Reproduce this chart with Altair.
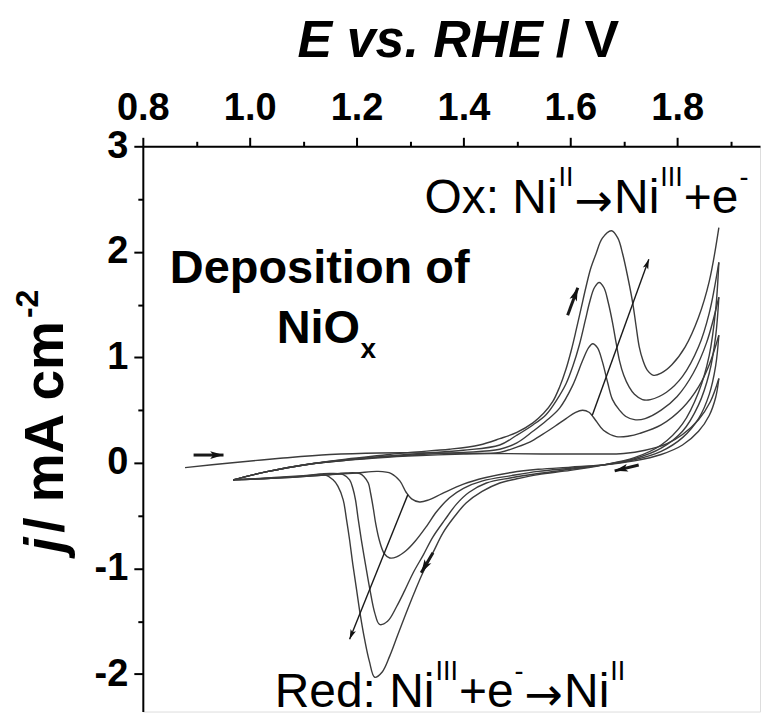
import math
import altair as alt
import pandas as pd

# ---------------- axes ----------------
X_MIN, X_MAX = 0.8, 1.955
Y_MIN, Y_MAX = -2.355, 3.0
PLOT_W, PLOT_H = 618, 566
x_tick_values = [0.8, 0.9, 1.0, 1.1, 1.2, 1.3, 1.4, 1.5, 1.6, 1.7, 1.8, 1.9]
y_tick_values = [-2, -1.5, -1, -0.5, 0, 0.5, 1, 1.5, 2, 2.5, 3]

# ---------------- CV scans (E in V vs RHE, j in mA cm-2) ----------------
fwd1_E = [0.879, 0.963, 1.057, 1.15, 1.243, 1.35, 1.45, 1.55, 1.65, 1.70, 1.74, 1.78, 1.81, 1.84, 1.862, 1.878]
fwd1_j = [-0.044, 0.0, 0.044, 0.08, 0.095, 0.095, 0.09, 0.085, 0.085, 0.09, 0.12, 0.18, 0.27, 0.41, 0.58, 0.80]

rev1_E = [1.878, 1.872, 1.86, 1.84, 1.81, 1.77, 1.72, 1.66, 1.60, 1.54, 1.49, 1.44, 1.40, 1.36, 1.335, 1.318,
          1.303, 1.293, 1.281, 1.265, 1.24, 1.20, 1.14, 1.08, 1.02, 0.969]
rev1_j = [0.80, 0.62, 0.45, 0.30, 0.17, 0.08, 0.02, -0.02, -0.04, -0.06, -0.09, -0.14, -0.20, -0.29, -0.35, -0.37,
          -0.34, -0.28, -0.17, -0.10, -0.08, -0.095, -0.115, -0.135, -0.15, -0.16]

fwd2_E = [0.969, 1.0, 1.03, 1.07, 1.12, 1.18, 1.243, 1.32, 1.40, 1.468, 1.50, 1.525, 1.548, 1.572, 1.592, 1.61,
          1.623, 1.635, 1.648, 1.662, 1.686, 1.71, 1.73, 1.77, 1.81, 1.84, 1.86, 1.878]
fwd2_j = [-0.16, -0.12, -0.085, -0.045, -0.005, 0.025, 0.05, 0.07, 0.085, 0.10, 0.15, 0.20, 0.27, 0.35, 0.42, 0.48,
          0.50, 0.48, 0.40, 0.31, 0.25, 0.255, 0.28, 0.36, 0.52, 0.72, 0.93, 1.21]

rev2_E = [1.878, 1.872, 1.86, 1.84, 1.81, 1.77, 1.72, 1.66, 1.60, 1.54, 1.49, 1.436, 1.40, 1.374, 1.35, 1.331,
          1.31, 1.293, 1.275, 1.262, 1.252, 1.243, 1.236, 1.231, 1.226, 1.222, 1.214, 1.206, 1.18, 1.14, 1.08,
          1.02, 0.969]
rev2_j = [1.21, 0.92, 0.65, 0.42, 0.24, 0.11, 0.03, -0.02, -0.05, -0.08, -0.12, -0.17, -0.24, -0.33, -0.46, -0.60,
          -0.74, -0.83, -0.89, -0.90, -0.86, -0.74, -0.58, -0.42, -0.28, -0.19, -0.13, -0.10, -0.095, -0.115,
          -0.135, -0.15, -0.16]

fwd3_E = [0.969, 1.0, 1.03, 1.07, 1.12, 1.18, 1.243, 1.32, 1.40, 1.468, 1.50, 1.530, 1.555, 1.580, 1.604,
          1.623, 1.634, 1.642, 1.651, 1.660, 1.670, 1.679, 1.692, 1.704, 1.72, 1.74, 1.77, 1.80, 1.83, 1.855, 1.878]
fwd3_j = [-0.16, -0.12, -0.085, -0.045, -0.005, 0.025, 0.055, 0.08, 0.10, 0.13, 0.19, 0.30, 0.40, 0.52, 0.73,
          0.97, 1.09, 1.13, 1.09, 0.96, 0.76, 0.60, 0.50, 0.44, 0.41, 0.42, 0.50, 0.63, 0.85, 1.14, 1.57]

rev3_E = [1.878, 1.872, 1.86, 1.84, 1.81, 1.77, 1.72, 1.66, 1.60, 1.54, 1.49, 1.443, 1.41, 1.387, 1.365, 1.343,
          1.325, 1.306, 1.29, 1.275, 1.258, 1.243, 1.234, 1.225, 1.217, 1.209, 1.203, 1.198, 1.193, 1.187, 1.175,
          1.15, 1.10, 1.04, 0.969]
rev3_j = [1.57, 1.20, 0.85, 0.55, 0.30, 0.14, 0.04, -0.02, -0.06, -0.10, -0.14, -0.19, -0.28, -0.39, -0.54, -0.70,
          -0.87, -1.04, -1.21, -1.36, -1.50, -1.53, -1.42, -1.20, -0.97, -0.73, -0.53, -0.35, -0.24, -0.16, -0.11,
          -0.10, -0.125, -0.145, -0.16]

fwd4_E = [0.969, 1.0, 1.03, 1.07, 1.12, 1.18, 1.243, 1.32, 1.40, 1.468, 1.499, 1.53, 1.555, 1.575, 1.592, 1.605,
          1.617, 1.628, 1.636, 1.645, 1.654, 1.663, 1.671, 1.679, 1.686, 1.692, 1.70, 1.710, 1.72, 1.735, 1.75,
          1.78, 1.81, 1.84, 1.86, 1.878]
fwd4_j = [-0.16, -0.12, -0.085, -0.045, -0.005, 0.03, 0.06, 0.09, 0.12, 0.17, 0.26, 0.36, 0.46, 0.60, 0.75, 0.92,
          1.12, 1.35, 1.52, 1.66, 1.71, 1.66, 1.52, 1.33, 1.13, 0.97, 0.83, 0.72, 0.65, 0.60, 0.60,
          0.67, 0.82, 1.10, 1.42, 1.90]

rev4_E = [1.878, 1.872, 1.86, 1.84, 1.81, 1.77, 1.72, 1.66, 1.60, 1.54, 1.50, 1.468, 1.435, 1.405, 1.383, 1.362,
          1.343, 1.324, 1.308, 1.293, 1.277, 1.262, 1.248, 1.234, 1.224, 1.215, 1.207, 1.20, 1.193, 1.187, 1.181,
          1.175, 1.165, 1.156, 1.14, 1.10, 1.04, 0.969]
rev4_j = [1.90, 1.45, 1.02, 0.67, 0.37, 0.17, 0.05, -0.02, -0.07, -0.11, -0.15, -0.19, -0.27, -0.38, -0.51, -0.66,
          -0.85, -1.04, -1.23, -1.42, -1.63, -1.83, -1.98, -2.03, -1.88, -1.67, -1.44, -1.20, -0.96, -0.73, -0.53,
          -0.35, -0.22, -0.16, -0.11, -0.12, -0.14, -0.16]

fwd5_E = [0.969, 1.0, 1.03, 1.07, 1.12, 1.18, 1.243, 1.30, 1.374, 1.43, 1.468, 1.50, 1.530, 1.550, 1.567, 1.580,
          1.592, 1.602, 1.611, 1.620, 1.629, 1.638, 1.648, 1.660, 1.677, 1.689, 1.698, 1.708, 1.717, 1.723, 1.729,
          1.736, 1.744, 1.756, 1.77, 1.79, 1.815, 1.84, 1.86, 1.878]
fwd5_j = [-0.16, -0.12, -0.085, -0.045, -0.005, 0.035, 0.07, 0.10, 0.13, 0.17, 0.23, 0.29, 0.38, 0.47, 0.58, 0.72,
          0.89, 1.07, 1.26, 1.46, 1.66, 1.84, 1.98, 2.13, 2.20, 2.13, 1.98, 1.75, 1.51, 1.30, 1.10,
          0.97, 0.88, 0.83, 0.85, 0.93, 1.10, 1.38, 1.72, 2.23]

scan_names = ["fwd1", "rev1", "fwd2", "rev2", "fwd3", "rev3", "fwd4", "rev4", "fwd5"]
scan_E = [fwd1_E, rev1_E, fwd2_E, rev2_E, fwd3_E, rev3_E, fwd4_E, rev4_E, fwd5_E]
scan_j = [fwd1_j, rev1_j, fwd2_j, rev2_j, fwd3_j, rev3_j, fwd4_j, rev4_j, fwd5_j]

# ---------------- arrows (tail -> head) ----------------
arrow_E0 = [0.895, 1.595, 1.641, 1.728, 1.343, 1.296]
arrow_j0 = [0.075, 1.40, 0.45, -0.02, -0.85, -0.30]
arrow_E1 = [0.951, 1.614, 1.747, 1.683, 1.321, 1.187]
arrow_j1 = [0.075, 1.66, 1.93, -0.075, -1.04, -1.67]
arrow_w = [3.0, 3.0, 1.4, 3.0, 3.0, 1.4]
arrow_head = [420, 420, 230, 420, 420, 230]

# ---------------- annotation texts (pieces: text, kind) ----------------
ox_pieces = [("Ox: Ni", "main"), ("II", "sup"), ("\u2192", "arrow"), ("Ni", "main"), ("III", "sup"),
             ("+e", "main"), ("-", "sup")]
red_pieces = [("Red: Ni", "main"), ("III", "sup"), ("+e", "main"), ("-", "sup"), ("\u2192", "arrow"),
              ("Ni", "main"), ("II", "sup")]

# ---------------- build tables ----------------
rows = []
for name, Es, js in zip(scan_names, scan_E, scan_j):
    for i, (e, v) in enumerate(zip(Es, js)):
        rows.append({"scan": name, "idx": i, "E": e, "j": v})
cv = pd.DataFrame(rows)

sx = PLOT_W / (X_MAX - X_MIN)
sy = PLOT_H / (Y_MAX - Y_MIN)
arr = pd.DataFrame({"E0": arrow_E0, "j0": arrow_j0, "E1": arrow_E1, "j1": arrow_j1,
                    "w": arrow_w, "hs": arrow_head})
arr["ang"] = [(math.degrees(math.atan2((e1 - e0) * sx, (j1 - j0) * sy)) + 360) % 360
              for e0, j0, e1, j1 in zip(arrow_E0, arrow_j0, arrow_E1, arrow_j1)]

FONT = "Liberation Sans"
xmaj = "abs(datum.value*5 - round(datum.value*5)) < 0.01"
ymaj = "abs(datum.value - round(datum.value)) < 0.01"

xscale = alt.Scale(domain=[X_MIN, X_MAX], nice=False, zero=False)
yscale = alt.Scale(domain=[Y_MIN, Y_MAX], nice=False, zero=False)

xaxis = alt.Axis(orient="top", values=x_tick_values, title=None, grid=False,
                 labelExpr=f"{xmaj} ? format(datum.value, '.1f') : ''",
                 tickSize={"condition": {"test": xmaj, "value": 9}, "value": 5},
                 tickWidth=2, tickColor="black", domainColor="black", domainWidth=2,
                 labelFont=FONT, labelFontSize=38, labelFontWeight="bold", labelColor="black",
                 labelPadding=10, labelFlush=False, labelOverlap=False)
yaxis = alt.Axis(orient="left", values=y_tick_values, title=None, grid=False,
                 labelExpr=f"{ymaj} ? '' + round(datum.value) : ''",
                 tickSize={"condition": {"test": ymaj, "value": 9}, "value": 5},
                 tickWidth=2, tickColor="black", domainColor="black", domainWidth=2,
                 labelFont=FONT, labelFontSize=38, labelFontWeight="bold", labelColor="black",
                 labelPadding=6, labelFlush=False, labelOverlap=False)

curves = alt.Chart(cv).mark_line(interpolate="catmull-rom", color="#3c3c3c", strokeWidth=1.4).encode(
    x=alt.X("E:Q", scale=xscale, axis=xaxis),
    y=alt.Y("j:Q", scale=yscale, axis=yaxis),
    detail="scan:N",
    order="idx:Q",
)

shafts = alt.Chart(arr).mark_rule(color="#1a1a1a").encode(
    x="E0:Q", y="j0:Q", x2="E1:Q", y2="j1:Q",
    strokeWidth=alt.StrokeWidth("w:Q", scale=None),
)

HEAD = "M0,0L0.38,1.3L0,1.0L-0.38,1.3Z"
heads = alt.Chart(arr).mark_point(shape=HEAD, filled=True, color="#111111", opacity=1).encode(
    x="E1:Q", y="j1:Q",
    angle=alt.Angle("ang:Q", scale=None),
    size=alt.Size("hs:Q", scale=None),
)


def txt(s, x, y, size, weight="normal", style="normal", angle=0, align="left", font=FONT):
    return alt.Chart(pd.DataFrame({"t": [s]})).mark_text(
        font=font, fontSize=size, fontWeight=weight, fontStyle=style, angle=angle,
        align=align, baseline="alphabetic", color="black",
    ).encode(text="t:N", x=alt.value(x), y=alt.value(y))


# Arial / Liberation Sans advance widths (per 1000 em) for laying out the sub/superscript pieces
ADV = {"O": 778, "x": 500, ":": 278, " ": 278, "N": 722, "i": 222, "I": 278, "+": 584, "e": 556,
       "-": 333, "R": 722, "d": 556}
MAIN, SUP, ARROW = 48, 27, 46


def flow(pieces, x0, base):
    out = []
    x = x0
    for s, kind in pieces:
        if kind == "main":
            out.append(txt(s, x, base, MAIN))
            x += sum(ADV[c] for c in s) * MAIN / 1000
        elif kind == "sup":
            out.append(txt(s, x + 1, base - 27, SUP))
            x += sum(ADV[c] for c in s) * SUP / 1000 + 2
        else:
            out.append(txt(s, x, base + 3, ARROW, font="DejaVu Sans"))
            x += 0.838 * ARROW + 1
    return out


texts = [
    # top axis title
    txt("E vs. RHE", 155, -89, 52, "bold", "italic"),
    txt("/ V", 477, -89, 52, "bold", align="right"),
    # left axis title (rotated)
    txt("j", -80, 407, 55, "bold", "italic", angle=270),
    txt("/ mA cm", -80, 387, 55, "bold", angle=270),
    txt("-2", -105, 172, 32, "bold", angle=270),
    # deposition label
    txt("Deposition of", 27, 137, 47, "bold"),
    txt("NiO", 134, 197, 47, "bold"),
    txt("x", 218, 212, 28, "bold"),
]
texts += flow(ox_pieces, 282, 67)
texts += flow(red_pieces, 132, 561)

chart = alt.layer(curves, shafts, heads, *texts).properties(
    width=PLOT_W, height=PLOT_H,
    autosize=alt.AutoSizeParams(type="none"),
    padding={"left": 135, "top": 138, "right": 2, "bottom": 10},
).configure_view(stroke=None).configure(background="white")

chart.save("out.html", embed_options={"renderer": "svg", "actions": False})
